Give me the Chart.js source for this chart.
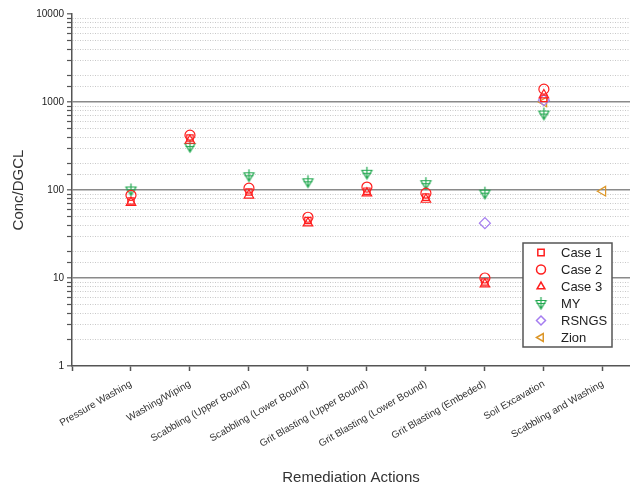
<!DOCTYPE html>
<html>
<head>
<meta charset="utf-8">
<script src="https://cdn.jsdelivr.net/npm/chart.js@4.4.1/dist/chart.umd.min.js"></script>
<style>
  html, body { margin: 0; padding: 0; background: #fff; }
  #wrap { position: relative; width: 630px; height: 489px; }
</style>
</head>
<body>
<div id="wrap"><canvas id="chart-scatter" width="630" height="489"></canvas></div>
<script>
// categories (x = 1..9, x = 0 is the empty start of the axis)
let actions = ["Pressure Washing", "Washing/Wiping", "Scabbling (Upper Bound)", "Scabbling (Lower Bound)",
    "Grit Blasting (Upper Bound)", "Grit Blasting (Lower Bound)", "Grit Blasting (Embeded)",
    "Soil Excavation", "Scabbling and Washing"]

// Conc/DGCL values per action, null = no point
let case1 = [75, 390, 95, 45, 97, 83, 9, 1100, null]
let case2 = [87, 420, 105, 49, 108, 92, 10, 1400, null]
let case3 = [72, 365, 87, 42, 92, 78, 8.5, 1200, null]
let myVals = [100, 312, 145, 124, 155, 118, 92, 730, null]
let rsngs = [null, null, null, null, null, null, 42, 1050, null]
let zion = [null, null, null, null, null, null, null, 1000, 97]

let yTicks = [1, 10, 100, 1000, 10000]

function toPoints(vals) {
    let pts = []
    for (let t = 0; t < vals.length; t++) {
        if (vals[t] !== null) pts.push({x: t + 1, y: vals[t]})
    }
    return pts
}

// MY marker: down triangle with a cross through it
let myMarker = document.createElement('canvas')
myMarker.width = 15
myMarker.height = 15
let mc = myMarker.getContext('2d')
mc.strokeStyle = "rgb(34, 168, 80)"
mc.lineWidth = 1.2
mc.beginPath()
mc.moveTo(2.5, 4.5); mc.lineTo(12.5, 4.5); mc.lineTo(7.5, 13); mc.closePath()
mc.moveTo(7.5, 1); mc.lineTo(7.5, 13)
mc.moveTo(3, 7.5); mc.lineTo(12, 7.5)
mc.stroke()

let red = "rgb(255, 30, 30)"

let scatterData = {
    datasets: [
        {label: "Case 1", data: toPoints(case1), pointStyle: 'rect', borderColor: red, radius: 4.5},
        {label: "Case 2", data: toPoints(case2), pointStyle: 'circle', borderColor: red, radius: 5},
        {label: "Case 3", data: toPoints(case3), pointStyle: 'triangle', borderColor: red, radius: 5.5},
        {label: "MY", data: toPoints(myVals), pointStyle: myMarker, borderColor: "rgb(34, 168, 80)", radius: 6},
        {label: "RSNGS", data: toPoints(rsngs), pointStyle: 'rectRot', borderColor: "rgb(165, 125, 240)", radius: 5.5},
        {label: "Zion", data: toPoints(zion), pointStyle: 'triangle', rotation: -90, borderColor: "rgb(220, 150, 40)", radius: 5.5}
    ]
};
scatterData.datasets.forEach((ds) => {
    ds.backgroundColor = "rgba(0,0,0,0)"
    ds.borderWidth = 1.2
    ds.hoverRadius = ds.radius
});

function isDecade(v) {
    return yTicks.indexOf(v) >= 0
}

// legend box drawn inside the plot
let legendBox = {
    id: 'legendBox',
    afterDraw(chart) {
        let ctx = chart.ctx
        let bx = 523, by = 243, bw = 89, bh = 104
        ctx.save()
        ctx.fillStyle = "#fff"
        ctx.fillRect(bx, by, bw, bh)
        ctx.strokeStyle = "#555"
        ctx.lineWidth = 1.5
        ctx.strokeRect(bx, by, bw, bh)
        ctx.font = "13px 'Liberation Sans', Arial, sans-serif"
        ctx.textBaseline = "middle"
        chart.data.datasets.forEach((ds, i) => {
            let cy = by + 9.5 + i * 17
            ctx.strokeStyle = ds.borderColor
            ctx.fillStyle = "rgba(0,0,0,0)"
            Chart.helpers.drawPoint(ctx, {pointStyle: ds.pointStyle, rotation: ds.rotation || 0,
                radius: ds.pointStyle === myMarker ? 6 : 4.5, borderWidth: 1.2}, bx + 18, cy)
            ctx.fillStyle = "#222"
            ctx.fillText(ds.label, bx + 38, cy + 1)
        });
        ctx.restore()
    }
}

let scatterChart = new Chart(
    document.getElementById("chart-scatter").getContext('2d'),
    {
        type: 'scatter',
        data: scatterData,
        plugins: [legendBox],
        options: {
            responsive: false,
            animation: false,
            layout: {autoPadding: false, padding: {top: 14, right: 0, left: 0, bottom: 0}},
            plugins: {
                legend: {display: false},
                tooltip: {enabled: false}
            },
            scales: {
                x: {
                    type: 'linear',
                    min: 0,
                    max: 9.46,
                    afterFit: (s) => { s.height = 123; s.paddingRight = 0; s.paddingLeft = 0 },
                    ticks: {
                        stepSize: 1,
                        includeBounds: false,
                        autoSkip: false,
                        minRotation: 30,
                        maxRotation: 30,
                        padding: 7,
                        color: "#333",
                        font: {family: "'Liberation Sans', Arial", size: 10},
                        callback: (v) => (v >= 1 && v <= actions.length ? actions[v - 1] : '')
                    },
                    grid: {drawOnChartArea: false, drawTicks: true, tickLength: 5, tickColor: "#555", tickWidth: 1.5},
                    border: {color: "#555", width: 1.5},
                    title: {
                        display: true,
                        text: "Remediation Actions",
                        color: "#333",
                        padding: {top: 4, bottom: 2},
                        font: {family: "'Liberation Sans', Arial", size: 15}
                    }
                },
                y: {
                    type: 'logarithmic',
                    min: 1,
                    max: 10000,
                    afterFit: (s) => { s.width = 72; s.paddingTop = 0 },
                    ticks: {
                        autoSkip: false,
                        color: "#222",
                        font: {family: "'Liberation Sans', Arial", size: 10},
                        callback: (v) => (isDecade(v) ? String(v) : '')
                    },
                    grid: {
                        color: (c) => (isDecade(c.tick.value) ? (c.tick.value === 1 || c.tick.value === 10000 ? "rgba(0,0,0,0)" : "#8a8a8a") : "#c8c8c8"),
                        lineWidth: (c) => (isDecade(c.tick.value) ? 1.6 : 1),
                        tickLength: 5,
                        tickColor: "#555",
                        tickWidth: 1.2,
                        tickBorderDash: []
                    },
                    border: {
                        color: "#555",
                        width: 1.5,
                        dash: (c) => (c.tick && !isDecade(c.tick.value) ? [1, 1.5] : [])
                    },
                    title: {
                        display: true,
                        text: "Conc/DGCL",
                        color: "#333",
                        padding: {top: 10, bottom: 4},
                        font: {family: "'Liberation Sans', Arial", size: 15}
                    }
                }
            }
        }
    }
)
</script>
</body>
</html>
